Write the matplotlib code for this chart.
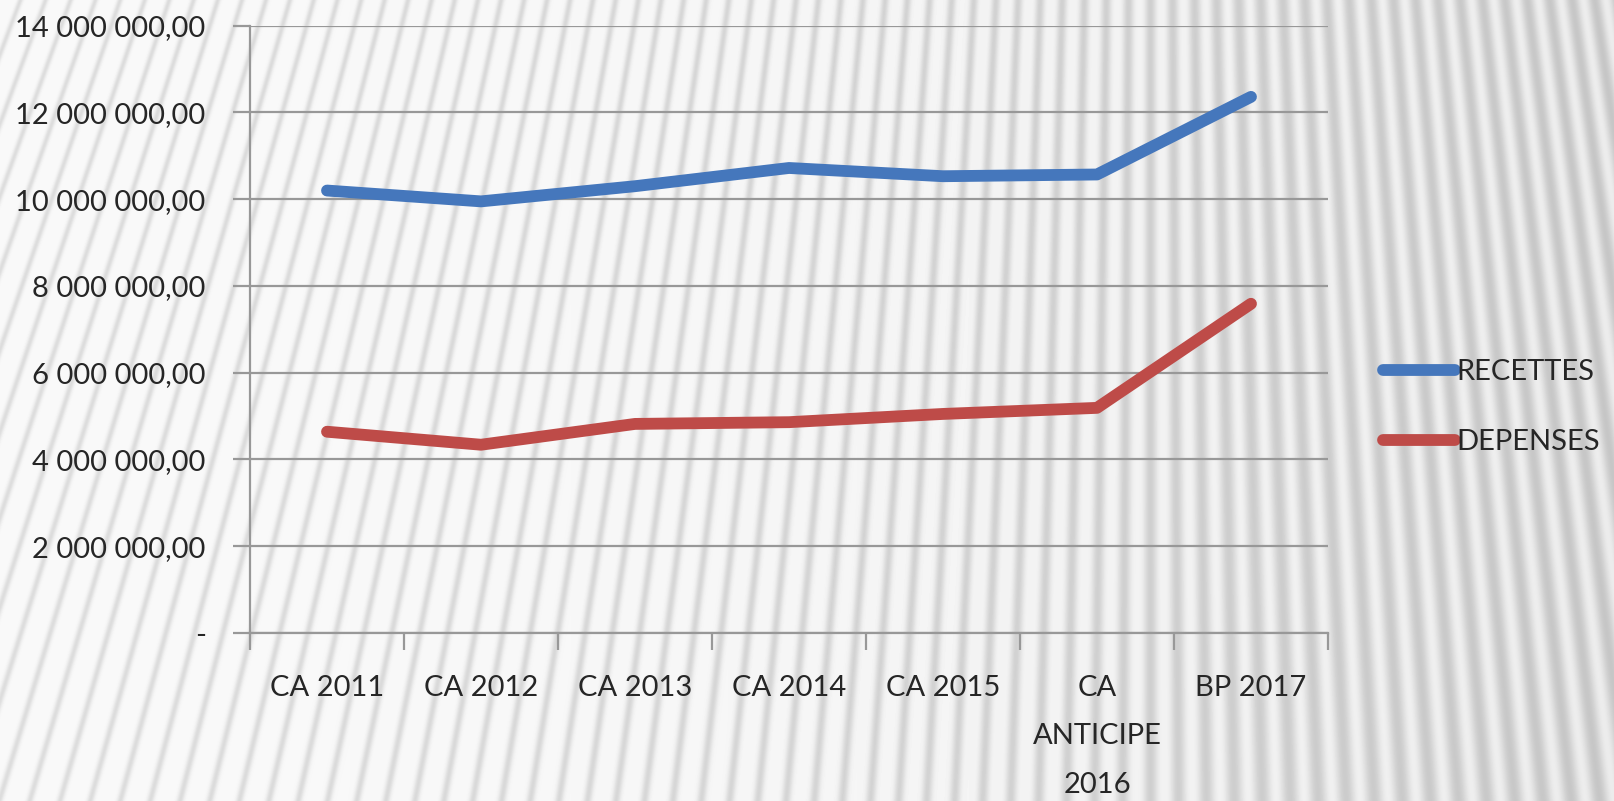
import numpy as np
import matplotlib
matplotlib.use('Agg')
import matplotlib.pyplot as plt

# Chart data
categories = ['CA 2011', 'CA 2012', 'CA 2013', 'CA 2014', 'CA 2015', 'CA\nANTICIPE\n2016', 'BP 2017']
recettes = [10200000, 9950000, 10300000, 10720000, 10530000, 10570000, 12360000]
depenses = [4640000, 4340000, 4820000, 4860000, 5050000, 5190000, 7590000]
yticks = [0, 2000000, 4000000, 6000000, 8000000, 10000000, 12000000, 14000000]
ytick_labels = ['-', '2 000 000,00', '4 000 000,00', '6 000 000,00', '8 000 000,00',
                '10 000 000,00', '12 000 000,00', '14 000 000,00']

plt.rcParams['font.family'] = ['Lato', 'DejaVu Sans']
W, H = 1615, 801
fig = plt.figure(figsize=(W / 100, H / 100), dpi=100)

# Striped background, lines fanning out from a point far above
bg_ax = fig.add_axes([0, 0, 1, 1], zorder=-1)
xx, yy = np.meshgrid(np.arange(W), np.arange(H))
u = xx / W
x0, y0 = 1150.0, -3000.0
theta = np.arctan2(xx - x0, yy - y0)
phase = 2 * np.pi * theta * 3400.0 / 25.0
wave = 0.5 + 0.5 * np.cos(phase)
sharp = np.clip(1 - u * 1.3, 0, 1)
stripe = wave ** (1 + 7 * sharp)
depth = 0.11 + 0.04 * u
img = 0.975 - depth * stripe - 0.05 * u ** 2
bg_ax.imshow(img, cmap='gray', vmin=0, vmax=1, aspect='auto', extent=[0, W, H, 0])
bg_ax.axis('off')

ax = fig.add_axes([250 / W, 1 - 633 / H, (1328 - 250) / W, (633 - 25.7) / H])
ax.set_facecolor('none')
x = np.arange(len(categories))
ax.plot(x, recettes, color='#4577BC', linewidth=8.5, solid_capstyle='round', label='RECETTES')
ax.plot(x, depenses, color='#BE4B48', linewidth=8.5, solid_capstyle='round', label='DEPENSES')

ax.set_xlim(-0.5, len(categories) - 0.5)
ax.set_ylim(0, 14000000)
ax.set_yticks(yticks)
ax.set_yticklabels(ytick_labels, fontsize=21, color='#262626')
ax.yaxis.grid(True, color='#989898', linewidth=1.6)
ax.set_axisbelow(True)
ax.tick_params(axis='y', length=12, width=1.6, color='#989898', pad=20)

ax.set_xticks(np.arange(len(categories) + 1) - 0.5)
ax.set_xticklabels([])
ax.set_xticks(x, minor=True)
ax.set_xticklabels(categories, minor=True, fontsize=21, color='#262626', linespacing=2.08, va='top')
ax.tick_params(axis='x', which='major', length=12, width=1.6, color='#989898')
ax.tick_params(axis='x', which='minor', length=0, pad=30)

for side in ['top', 'right']:
    ax.spines[side].set_visible(False)
for side in ['left', 'bottom']:
    ax.spines[side].set_color('#989898')
    ax.spines[side].set_linewidth(1.6)

leg = fig.legend(loc='center left', bbox_to_anchor=(1357 / W, 1 - 407 / H), frameon=False,
                 fontsize=21, handlelength=2.45, handletextpad=0.05, labelspacing=1.5,
                 labelcolor='#262626')

plt.savefig('out.png', dpi=100)
